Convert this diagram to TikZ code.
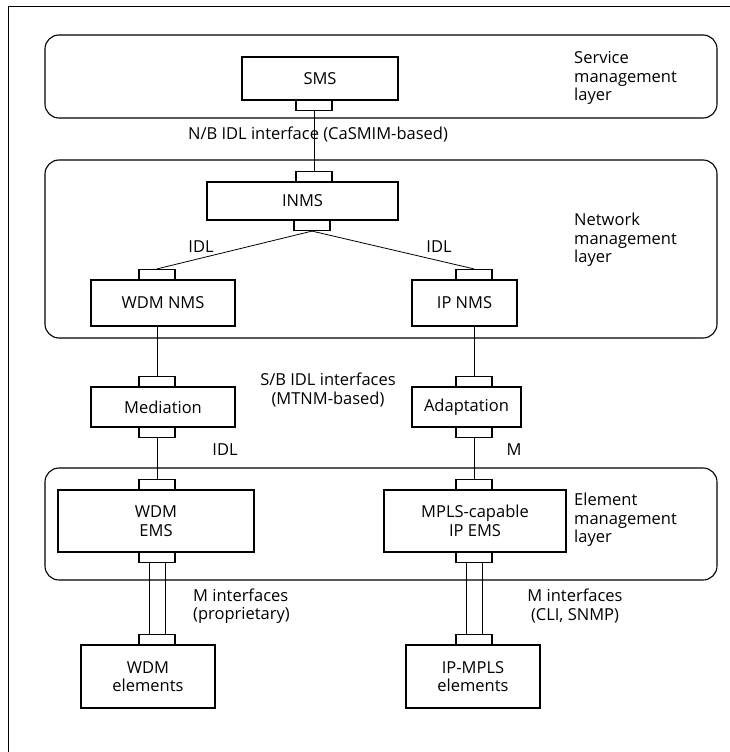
\documentclass[tikz,border=0pt]{standalone}
\usepackage{fontspec}
\setmainfont{Open Sans}
\begin{document}
\begin{tikzpicture}[x=1pt,y=-1pt,
  txt/.style={font=\fontsize{16.5}{18.5}\selectfont},
  layerbox/.style={draw, rounded corners=14pt, line width=1.1pt},
  unit/.style={draw, txt, line width=1.1pt, fill=white, align=center, inner sep=0pt},
  port/.style={draw, line width=1.1pt, fill=white, minimum width=36pt, minimum height=10pt, inner sep=0pt},
  link/.style={line width=0.8pt},
  lbl/.style={txt, inner sep=0pt}]
\useasboundingbox (0,0) rectangle (730,752);

% frame
\draw[line width=1pt] (8,752) -- (8,7) -- (730,7);

% management layers
\draw[layerbox] (45,35) rectangle (717,118);
\draw[layerbox] (45,160) rectangle (717,338);
\draw[layerbox] (45,468) rectangle (717,580);

\node[lbl, anchor=west, align=left] (svcL) at (574,78) {Service\\management\\layer};
\node[lbl, anchor=west, align=left] (netL) at (574,240) {Network\\management\\layer};
\node[lbl, anchor=west, align=left] (elmL) at (574,520) {Element\\management\\layer};

% service management
\node[unit, minimum width=156pt, minimum height=43pt] (sms) at (320,78.5) {SMS};
\node[port, anchor=north] (smsB) at (314,100) {};

% network management
\node[unit, minimum width=191pt, minimum height=38pt] (inms) at (302.5,201) {INMS};
\node[port, anchor=south] (inmsT) at (314,182) {};
\node[port, anchor=north] (inmsB) at (312,220) {};

\node[unit, minimum width=144pt, minimum height=46pt] (wnms) at (163,303) {WDM NMS};
\node[port, anchor=south] (wnmsT) at (157,280) {};
\node[unit, minimum width=105pt, minimum height=46pt] (inmsIP) at (464.5,303) {IP NMS};
\node[port, anchor=south] (ipnmsT) at (474,280) {};

% mediation / adaptation
\node[unit, minimum width=144pt, minimum height=40pt] (med) at (163,407) {Mediation};
\node[port, anchor=south] (medT) at (157,387) {};
\node[port, anchor=north] (medB) at (157,427) {};
\node[unit, minimum width=109pt, minimum height=40pt] (ada) at (466.5,407) {Adaptation};
\node[port, anchor=south] (adaT) at (474,387) {};
\node[port, anchor=north] (adaB) at (474,427) {};

% element management
\node[unit, minimum width=196pt, minimum height=62pt] (wems) at (156,521) {WDM\\EMS};
\node[port, anchor=south] (wemsT) at (157,490) {};
\node[port, anchor=north] (wemsB) at (157,552) {};
\node[unit, minimum width=182pt, minimum height=62pt] (iems) at (475,521) {MPLS-capable\\IP EMS};
\node[port, anchor=south] (iemsT) at (474,490) {};
\node[port, anchor=north] (iemsB) at (474,552) {};

% network elements
\node[unit, minimum width=134pt, minimum height=63pt] (wel) at (148,676.5) {WDM\\elements};
\node[port, anchor=south] (welT) at (157,645) {};
\node[unit, minimum width=134pt, minimum height=63pt] (iel) at (473,676.5) {IP-MPLS\\elements};
\node[port, anchor=south] (ielT) at (474,645) {};

% interface labels
\node[lbl] (nbL) at (318,134) {N/B IDL interface (CaSMIM-based)};
\node[lbl] (idlA) at (201,247) {IDL};
\node[lbl] (idlB) at (439,247) {IDL};
\node[lbl, align=center] (sbL) at (328,390) {S/B IDL interfaces\\(MTNM-based)};
\node[lbl] (idlC) at (225,450) {IDL};
\node[lbl] (mA) at (514,450) {M};
\node[lbl, anchor=west, align=left] (mpL) at (193,606) {M interfaces\\(proprietary)};
\node[lbl, align=center] (mcL) at (575,606) {M interfaces\\(CLI, SNMP)};

% connectors
\draw[link] (smsB.south) -- (inmsT.north);
\draw[link] (inmsB.south) -- (wnmsT.north);
\draw[link] (inmsB.south) -- (ipnmsT.north);
\draw[link] (wnmsT.north |- wnms.south) -- (medT.north);
\draw[link] (ipnmsT.north |- inmsIP.south) -- (adaT.north);
\draw[link] (medB.south) -- (wemsT.north);
\draw[link] (adaB.south) -- (iemsT.north);
\draw[link] ([xshift=-8pt]wemsB.south) -- ([xshift=-8pt]welT.north);
\draw[link] ([xshift=8pt]wemsB.south) -- ([xshift=8pt]welT.north);
\draw[link] ([xshift=-8pt]iemsB.south) -- ([xshift=-8pt]ielT.north);
\draw[link] ([xshift=8pt]iemsB.south) -- ([xshift=8pt]ielT.north);
\end{tikzpicture}
\end{document}
